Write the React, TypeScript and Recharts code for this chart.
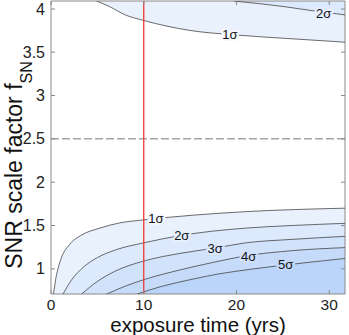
import React from 'react';
import {
  ComposedChart, Area, Line, Scatter, XAxis, YAxis, ReferenceLine, ReferenceArea,
} from 'recharts';

// contour levels: exposure time (yrs) vs SNR scale factor
const sigma1Low = [
  { x: 0.27, y: 0.71 }, { x: 0.49, y: 0.87 }, { x: 1.03, y: 1.1 }, { x: 2, y: 1.28 },
  { x: 3.3, y: 1.39 }, { x: 5.26, y: 1.47 }, { x: 7.4, y: 1.53 }, { x: 10, y: 1.565 },
  { x: 15.4, y: 1.62 }, { x: 21, y: 1.66 }, { x: 31.7, y: 1.7 },
];
const sigma2Low = [
  { x: 1.3, y: 0.71 }, { x: 2.2, y: 0.87 }, { x: 3.5, y: 1.02 }, { x: 5, y: 1.13 },
  { x: 7, y: 1.22 }, { x: 10, y: 1.3 }, { x: 14, y: 1.385 }, { x: 21, y: 1.47 },
  { x: 26, y: 1.5 }, { x: 31.7, y: 1.525 },
];
const sigma3Low = [
  { x: 3.3, y: 0.71 }, { x: 5, y: 0.855 }, { x: 6.85, y: 0.97 }, { x: 10, y: 1.09 },
  { x: 14, y: 1.18 }, { x: 17.7, y: 1.24 }, { x: 21, y: 1.3 }, { x: 26, y: 1.34 },
  { x: 31.7, y: 1.375 },
];
const sigma4Low = [
  { x: 6, y: 0.71 }, { x: 8, y: 0.8 }, { x: 10, y: 0.875 }, { x: 14, y: 0.99 },
  { x: 17.5, y: 1.075 }, { x: 21, y: 1.15 }, { x: 26, y: 1.21 }, { x: 31.7, y: 1.245 },
];
const sigma5Low = [
  { x: 9.3, y: 0.71 }, { x: 12, y: 0.8 }, { x: 15, y: 0.875 }, { x: 18, y: 0.94 },
  { x: 21.5, y: 0.995 }, { x: 25.3, y: 1.045 }, { x: 31.7, y: 1.12 },
];
const sigma1High = [
  { x: 4.9, y: 4.09 }, { x: 6.3, y: 4.026 }, { x: 8, y: 3.93 }, { x: 10, y: 3.865 },
  { x: 12.5, y: 3.8 }, { x: 15, y: 3.75 }, { x: 19.7, y: 3.7 }, { x: 25.1, y: 3.66 },
  { x: 31.7, y: 3.615 },
];
const sigma2High = [
  { x: 19.7, y: 4.09 }, { x: 25.1, y: 4.026 }, { x: 28.7, y: 3.97 }, { x: 31.7, y: 3.93 },
];

const contourLabels = [
  { x: 19.3, y: 3.7, label: '1σ' },
  { x: 29.4, y: 3.95, label: '2σ' },
  { x: 11.3, y: 1.585, label: '1σ' },
  { x: 14.1, y: 1.39, label: '2σ' },
  { x: 17.7, y: 1.235, label: '3σ' },
  { x: 21.3, y: 1.14, label: '4σ' },
  { x: 25.3, y: 1.045, label: '5σ' },
];

const xTicks = [0, 10, 20, 30];
const yTicks = [1, 1.5, 2, 2.5, 3, 3.5, 4];
const xDomain = [0, 31.7];
const yDomain = [0.71, 4.09];
const exposureMark = 10;
const fsnMark = 2.5;

const W = 349;
const H = 335;
const LEFT = 51;
const RIGHT = 345;
const TOP = 1;
const BOTTOM = 294;
const FONT = '"Liberation Sans", Arial, sans-serif';
const AXIS = '#8a8a8a';
const LINE = '#454545';
const bands = ['#e9f1fd', '#dde9fc', '#d1e2fb', '#c6dbfa', '#bad4fa'];
const halos = ['#f4f8fe', '#e6effd', '#f4f8fe', '#e6effd', '#dae7fc', '#cfe0fb', '#c3d9fa'];

const XTick = (props: any) => {
  const { x, payload } = props;
  return (
    <g>
      <line x1={x} x2={x} y1={BOTTOM} y2={BOTTOM - 4} stroke={AXIS} />
      <line x1={x} x2={x} y1={TOP} y2={TOP + 4} stroke={AXIS} />
      <text x={x} y={309.5} textAnchor="middle" fontSize={15.5} fontFamily={FONT} fill="#222">
        {payload.value}
      </text>
    </g>
  );
};

const YTick = (props: any) => {
  const { y, payload } = props;
  return (
    <g>
      <line x1={LEFT} x2={LEFT + 4} y1={y} y2={y} stroke={AXIS} />
      <line x1={RIGHT} x2={RIGHT - 4} y1={y} y2={y} stroke={AXIS} />
      <text x={45} y={y + 5.5} textAnchor="end" fontSize={16} fontFamily={FONT} fill="#222">
        {payload.value}
      </text>
    </g>
  );
};

const ContourLabel = (props: any) => {
  const { cx, cy, payload, index } = props;
  return (
    <text
      x={cx}
      y={cy + 4.5}
      textAnchor="middle"
      fontSize={13}
      fontFamily={FONT}
      fill="#111"
      stroke={halos[index] || '#fff'}
      strokeWidth={4}
      paintOrder="stroke"
    >
      {payload.label}
    </text>
  );
};

const YLabel = () => (
  <text transform="translate(22,165) rotate(-90)" textAnchor="middle" fontSize={23} fontFamily={FONT} fill="#111">
    SNR scale factor f
    <tspan fontSize={16} dy={10}>SN</tspan>
  </text>
);

const XLabel = () => (
  <text x={198} y={332} textAnchor="middle" fontSize={20.5} fontFamily={FONT} fill="#111">
    exposure time (yrs)
  </text>
);

export default function App() {
  const lows = [sigma1Low, sigma2Low, sigma3Low, sigma4Low, sigma5Low];
  return (
    <div style={{ position: 'absolute', left: 0, top: 0, width: W, height: H, background: '#fff' }}>
      <ComposedChart
        width={W}
        height={H}
        margin={{ top: TOP, right: W - RIGHT, bottom: 0, left: 0 }}
      >
        <XAxis
          dataKey="x"
          type="number"
          domain={xDomain}
          allowDataOverflow
          ticks={xTicks}
          tick={<XTick />}
          tickLine={false}
          axisLine={false}
          height={H - BOTTOM}
          label={<XLabel />}
        />
        <YAxis
          dataKey="y"
          type="number"
          domain={yDomain}
          allowDataOverflow
          ticks={yTicks}
          tick={<YTick />}
          tickLine={false}
          axisLine={false}
          width={LEFT}
          label={<YLabel />}
        />
        {lows.map((d, i) => (
          <Area
            key={'low' + i}
            data={d}
            dataKey="y"
            type="monotone"
            baseValue="dataMin"
            fill={bands[i]}
            fillOpacity={1}
            stroke="none"
            isAnimationActive={false}
          />
        ))}
        <Area data={sigma1High} dataKey="y" type="monotone" baseValue="dataMax" fill={bands[0]} fillOpacity={1} stroke="none" isAnimationActive={false} />
        <Area data={sigma2High} dataKey="y" type="monotone" baseValue="dataMax" fill={bands[1]} fillOpacity={1} stroke="none" isAnimationActive={false} />
        {[...lows, sigma1High, sigma2High].map((d, i) => (
          <Line
            key={'line' + i}
            data={d}
            dataKey="y"
            type="monotone"
            stroke={LINE}
            strokeWidth={0.8}
            dot={false}
            activeDot={false}
            isAnimationActive={false}
          />
        ))}
        <ReferenceLine y={fsnMark} stroke="#555" strokeDasharray="8 3" strokeWidth={0.8} />
        <ReferenceLine x={exposureMark} stroke="#ee3a32" strokeWidth={1.3} />
        <Scatter data={contourLabels} dataKey="y" shape={<ContourLabel />} isAnimationActive={false} />
        <ReferenceArea x1={xDomain[0]} x2={xDomain[1]} y1={yDomain[0]} y2={yDomain[1]} fill="none" stroke={AXIS} />
      </ComposedChart>
    </div>
  );
}
